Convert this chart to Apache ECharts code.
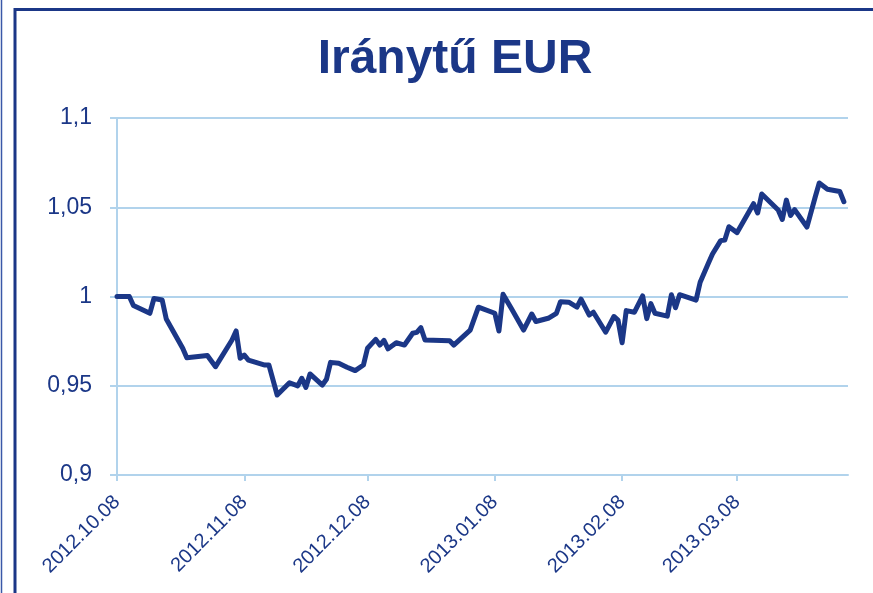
<!DOCTYPE html>
<html>
<head>
<meta charset="utf-8">
<title>Iránytű EUR</title>
<script src="https://cdn.jsdelivr.net/npm/echarts@6/dist/echarts.min.js"></script>
<style>
  html, body { margin: 0; padding: 0; background: #fff; }
  #chart { width: 873px; height: 593px; }
</style>
</head>
<body>
<div id="chart"></div>
<script>
// adatok (értékek)
var dates = [
  '2012-10-08', '2012-10-11', '2012-10-12', '2012-10-16', '2012-10-17', '2012-10-19', '2012-10-20',
  '2012-10-24', '2012-10-25', '2012-10-30', '2012-11-01', '2012-11-05', '2012-11-06', '2012-11-07',
  '2012-11-08', '2012-11-09', '2012-11-13', '2012-11-14', '2012-11-16', '2012-11-19', '2012-11-21',
  '2012-11-22', '2012-11-23', '2012-11-24', '2012-11-27', '2012-11-28', '2012-11-29', '2012-12-01',
  '2012-12-03', '2012-12-05', '2012-12-07', '2012-12-08', '2012-12-10', '2012-12-11', '2012-12-12',
  '2012-12-13', '2012-12-15', '2012-12-17', '2012-12-19', '2012-12-20', '2012-12-21', '2012-12-22',
  '2012-12-28', '2012-12-29', '2013-01-02', '2013-01-04', '2013-01-08', '2013-01-09', '2013-01-10',
  '2013-01-12', '2013-01-15', '2013-01-17', '2013-01-18', '2013-01-21', '2013-01-23', '2013-01-24',
  '2013-01-26', '2013-01-28', '2013-01-29', '2013-01-31', '2013-02-01', '2013-02-04', '2013-02-06',
  '2013-02-07', '2013-02-08', '2013-02-09', '2013-02-11', '2013-02-13', '2013-02-14', '2013-02-15',
  '2013-02-16', '2013-02-19', '2013-02-20', '2013-02-21', '2013-02-22', '2013-02-26', '2013-02-27',
  '2013-03-01', '2013-03-02', '2013-03-04', '2013-03-05', '2013-03-06', '2013-03-08', '2013-03-12',
  '2013-03-13', '2013-03-14', '2013-03-18', '2013-03-19', '2013-03-20', '2013-03-21', '2013-03-22',
  '2013-03-25', '2013-03-27', '2013-03-28', '2013-03-30', '2013-04-02', '2013-04-03'
];
var values = [
  1.000, 1.000, 0.995, 0.9906, 0.9989, 0.998, 0.9874,
  0.971, 0.9657, 0.967, 0.9607, 0.9756, 0.9807, 0.9654,
  0.9672, 0.9644, 0.9616, 0.9616, 0.9448, 0.9517, 0.9499,
  0.9542, 0.9491, 0.9566, 0.9504, 0.9536, 0.9631, 0.9626,
  0.9604, 0.9585, 0.9616, 0.971, 0.976, 0.9728, 0.9754,
  0.9707, 0.9741, 0.9728, 0.9794, 0.9799, 0.9825, 0.9756,
  0.9752, 0.9728, 0.9812, 0.994, 0.9906, 0.9807, 1.0012,
  0.9934, 0.9812, 0.9902, 0.986, 0.9878, 0.9906, 0.9971,
  0.9968, 0.994, 0.9985, 0.9896, 0.9912, 0.98, 0.9888,
  0.9868, 0.9741, 0.9921, 0.9912, 1.0003, 0.9876, 0.996,
  0.9906, 0.989, 1.001, 0.9937, 1.001, 0.998, 1.008,
  1.0186, 1.0238, 1.0313, 1.0317, 1.0391, 1.0358, 1.052,
  1.0468, 1.0574, 1.0485, 1.0432, 1.054, 1.0454, 1.0487,
  1.0389, 1.0556, 1.0636, 1.0601, 1.0588, 1.0531
];
var xTickDates = ['2012-10-08', '2012-11-08', '2012-12-08', '2013-01-08', '2013-02-08', '2013-03-08'];
var xRange = ['2012-10-08', '2013-04-04'];
var yTicks = [0.9, 0.95, 1, 1.05, 1.1];

var navy = '#1b3787';
var gridBlue = '#b1d3ec';

function toTime(s) {
  var p = s.split('-');
  return new Date(+p[0], +p[1] - 1, +p[2]).getTime();
}
function pad(n) { return n < 10 ? '0' + n : '' + n; }

var seriesData = dates.map(function (d, i) { return [toTime(d), values[i]]; });
var tickTimes = xTickDates.map(toTime);

var chart = echarts.init(document.getElementById('chart'));
chart.setOption({
  animation: false,
  title: {
    text: 'Iránytű EUR',
    left: 450,
    top: 31,
    textAlign: 'center',
    textStyle: {
      color: navy,
      fontFamily: 'Liberation Sans',
      fontWeight: 'bold',
      fontSize: 48
    }
  },
  graphic: [
    {
      type: 'line',
      shape: { x1: 1.5, y1: 0, x2: 1.5, y2: 593 },
      style: { stroke: '#3a58a8', lineWidth: 1.5 }
    },
    {
      type: 'polyline',
      shape: { points: [[15, 593], [15, 9.5], [873, 9.5]] },
      style: { stroke: navy, lineWidth: 3, fill: null }
    }
  ],
  grid: {
    left: 117,
    right: 25,
    top: 118,
    bottom: 118
  },
  // idotengely: ertek-tengely idobelyegekkel, hogy a jelolok a honap 8-an legyenek
  xAxis: {
    type: 'value',
    min: toTime(xRange[0]),
    max: toTime(xRange[1]),
    axisLine: { lineStyle: { color: gridBlue, width: 2 } },
    axisTick: {
      show: true,
      length: 6,
      customValues: tickTimes,
      lineStyle: { color: gridBlue, width: 2 }
    },
    axisLabel: {
      customValues: tickTimes,
      rotate: 45,
      margin: 24,
      color: navy,
      fontFamily: 'Liberation Sans',
      fontSize: 20,
      formatter: function (val) {
        var d = new Date(val);
        return d.getFullYear() + '.' + pad(d.getMonth() + 1) + '.' + pad(d.getDate());
      }
    },
    splitLine: { show: false }
  },
  yAxis: {
    type: 'value',
    min: yTicks[0],
    max: yTicks[yTicks.length - 1],
    interval: 0.05,
    axisLine: { show: true, lineStyle: { color: gridBlue, width: 2 } },
    axisTick: { show: true, length: 7, lineStyle: { color: gridBlue, width: 2 } },
    axisLabel: {
      margin: 25,
      color: navy,
      fontFamily: 'Liberation Sans',
      fontSize: 23,
      formatter: function (v) {
        return String(+v.toFixed(2)).replace('.', ',');
      }
    },
    splitLine: { show: true, lineStyle: { color: gridBlue, width: 2 } }
  },
  series: [
    {
      name: 'Iránytű EUR',
      type: 'line',
      data: seriesData,
      showSymbol: false,
      symbol: 'none',
      lineStyle: { color: navy, width: 5, join: 'round', cap: 'round' }
    }
  ]
});
</script>
</body>
</html>
